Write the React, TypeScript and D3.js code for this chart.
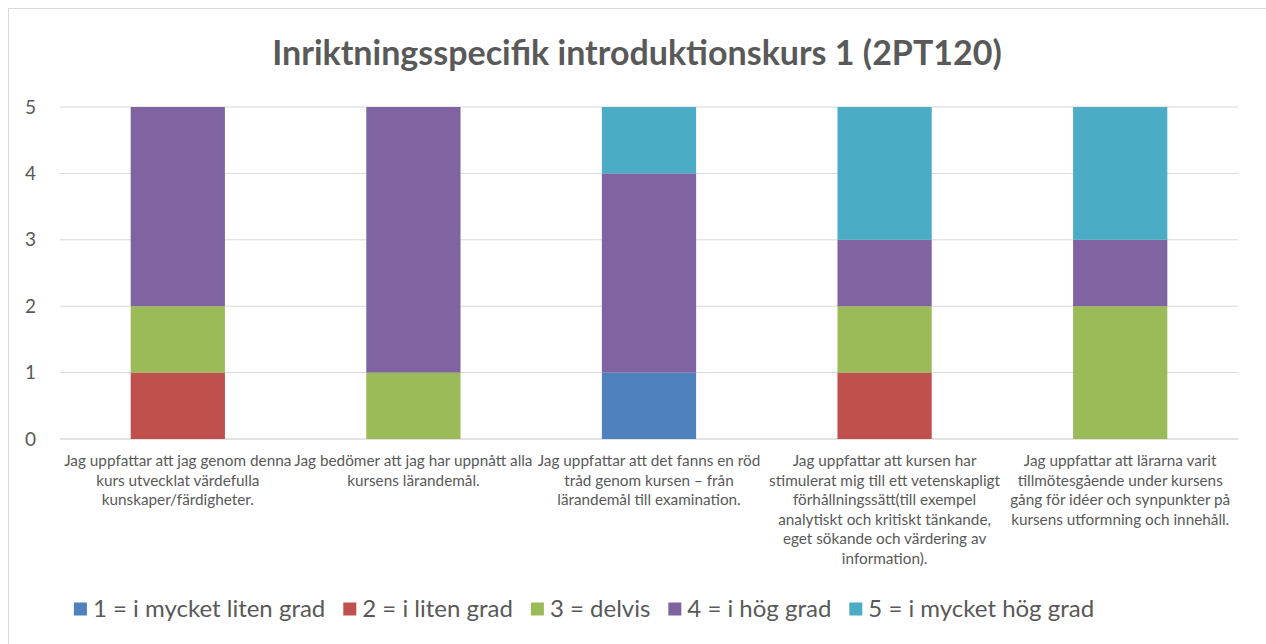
import React from 'react';
import * as d3 from 'd3';

const categories = [
  ['Jag uppfattar att jag genom denna', 'kurs utvecklat värdefulla', 'kunskaper/färdigheter.'],
  ['Jag bedömer att jag har uppnått alla', 'kursens lärandemål.'],
  ['Jag uppfattar att det fanns en röd', 'tråd genom kursen – från', 'lärandemål till examination.'],
  ['Jag uppfattar att kursen har', 'stimulerat mig till ett vetenskapligt', 'förhållningssätt(till exempel', 'analytiskt och kritiskt tänkande,', 'eget sökande och värdering av', 'information).'],
  ['Jag uppfattar att lärarna varit', 'tillmötesgående under kursens', 'gång för idéer och synpunkter på', 'kursens utformning och innehåll.'],
];

const seriesNames = ['1 = i mycket liten grad', '2 = i liten grad', '3 = delvis', '4 = i hög grad', '5 = i mycket hög grad'];
const colors = ['#4F81BD', '#C0504D', '#9BBB59', '#8064A2', '#4BACC6'];

const s1 = [0, 0, 1, 0, 0];
const s2 = [1, 0, 0, 1, 0];
const s3 = [1, 1, 0, 1, 2];
const s4 = [3, 4, 3, 1, 1];
const s5 = [0, 0, 1, 2, 2];
const seriesValues = [s1, s2, s3, s4, s5];

const yTicks = [0, 1, 2, 3, 4, 5];

const font = 'Lato, Calibri, "Open Sans", sans-serif';
const textColor = '#595959';

function measure(text: string, size: number) {
  const ctx = document.createElement('canvas').getContext('2d')!;
  ctx.font = `${size}px Lato`;
  return ctx.measureText(text).width;
}

export default function App() {
  const W = 1266;
  const H = 644;
  const left = 60;
  const right = 1238;
  const top = 107;
  const bottom = 439;

  const x = d3.scaleBand<number>().domain(d3.range(categories.length)).range([left, right]).paddingInner(0.6).paddingOuter(0.3);
  const y = d3.scaleLinear().domain([0, 5]).range([bottom, top]);

  const rows = categories.map((_, i) => {
    const r: any = { i };
    seriesValues.forEach((s, k) => (r['s' + k] = s[i]));
    return r;
  });
  const stack = d3.stack<any>().keys(seriesValues.map((_, k) => 's' + k))(rows);

  const legendSize = 24;
  const sq = 13;
  const gapSq = 6;
  const gapItem = 18;
  const widths = seriesNames.map((n) => sq + gapSq + measure(n, legendSize));
  const totalW = d3.sum(widths) + gapItem * (widths.length - 1);
  let lx = 584 - totalW / 2;
  const legendX = widths.map((w) => {
    const v = lx;
    lx += w + gapItem;
    return v;
  });

  return (
    <svg width={W} height={H} style={{ position: 'absolute', left: 0, top: 0, fontFamily: font }}>
      <rect x={8.5} y={8.5} width={W + 20} height={H + 20} fill="#fff" stroke="#d9d9d9" />
      <text x={637} y={65} textAnchor="middle" fontSize={34} fontWeight="bold" fill={textColor}>
        Inriktningsspecifik introduktionskurs 1 (2PT120)
      </text>
      {yTicks.map((t) => (
        <g key={t}>
          <line x1={left} x2={right} y1={y(t)} y2={y(t)} stroke="#d9d9d9" strokeWidth={t === 0 ? 1.5 : 1} />
          <text x={36} y={y(t)} dy="0.35em" textAnchor="end" fontSize={19} fill={textColor}>
            {t}
          </text>
        </g>
      ))}
      {stack.map((layer, k) => (
        <g key={k} fill={colors[k]}>
          {layer.map((d, i) =>
            d[1] - d[0] > 0 ? (
              <rect key={i} x={x(i)} width={x.bandwidth()} y={y(d[1])} height={y(d[0]) - y(d[1])} />
            ) : null
          )}
        </g>
      ))}
      {categories.map((lines, i) => (
        <text key={i} textAnchor="middle" fontSize={15.3} fill={textColor}>
          {lines.map((l, j) => (
            <tspan key={j} x={x(i)! + x.bandwidth() / 2} y={466 + j * 19.6}>
              {l}
            </tspan>
          ))}
        </text>
      ))}
      {seriesNames.map((n, k) => (
        <g key={k} transform={`translate(${legendX[k]},609)`}>
          <rect x={0} y={-sq / 2} width={sq} height={sq} fill={colors[k]} />
          <text x={sq + gapSq} y={0} dy="0.35em" fontSize={legendSize} fill={textColor}>
            {n}
          </text>
        </g>
      ))}
    </svg>
  );
}
